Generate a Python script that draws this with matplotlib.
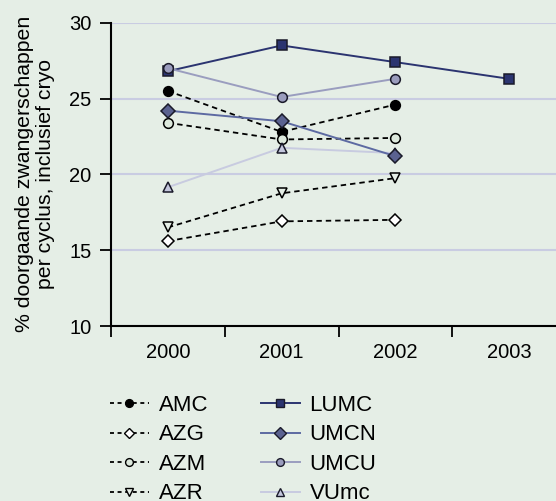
import matplotlib
matplotlib.use('Agg')
import matplotlib.pyplot as plt
from matplotlib.lines import Line2D

plt.rcParams['font.family'] = ['Liberation Sans', 'DejaVu Sans']

years = ["2000", "2001", "2002", "2003"]

amc = [25.5, 22.8, 24.6]
azg = [15.6, 16.9, 17.0]
azm = [23.4, 22.3, 22.4]
azr = [16.5, 18.75, 19.75]
lumc = [26.8, 28.5, 27.4, 26.3]
umcn = [24.2, 23.5, 21.2]
umcu = [27.0, 25.1, 26.3]
vumc = [19.15, 21.75, 21.4]

bg = "#e5eee6"
grid_c = "#c9cce2"

fig = plt.figure(figsize=(5.56, 5.01), dpi=100, facecolor=bg)
ax = fig.add_axes([111 / 556, 1 - 326 / 501, 455 / 556, 303.3 / 501], facecolor=bg)

# dashed black series
dash = dict(color="black", linestyle=(0, (3, 2.2)), linewidth=1.3, markersize=7,
            markeredgecolor="black", markeredgewidth=1.1)
ax.plot(range(3), amc, marker="o", markerfacecolor="black", label="AMC", zorder=3, **dash)
ax.plot(range(3), azg, marker="D", markerfacecolor="white", label="AZG", zorder=3,
        **{**dash, "markersize": 6.5})
ax.plot(range(3), azr, marker="v", markerfacecolor=bg, label="AZR", zorder=3, **dash)
ax.plot(range(3), azm, marker="o", markerfacecolor="#dde9dd", label="AZM", zorder=4, **dash)

solid = dict(linewidth=1.4, markersize=7, markeredgecolor="#1a1a2a", markeredgewidth=1.1)
ax.plot(range(3), vumc, marker="^", color="#c8cbe0", markerfacecolor="#c4c7dd",
        label="VUmc", zorder=5, **solid)
ax.plot(range(3), umcn, marker="D", color="#5d6aa2", markerfacecolor="#5b6290",
        label="UMCN", zorder=6, **{**solid, "markersize": 7.5})
ax.plot(range(4), lumc, marker="s", color="#2b3470", markerfacecolor="#2b3470",
        label="LUMC", zorder=7, **solid)
ax.plot(range(3), umcu, marker="o", color="#9a9dbf", markerfacecolor="#9a9cbd",
        label="UMCU", zorder=8, **solid)

ax.set_ylim(10, 30)
ax.set_yticks([10, 15, 20, 25, 30])
ax.set_xlim(-0.5, 3.5)
ax.set_xticks([-0.5, 0.5, 1.5, 2.5, 3.5])
ax.set_xticklabels([])
ax.set_xticks(range(4), minor=True)
ax.set_xticklabels(years, minor=True)
ax.tick_params(axis="x", which="minor", length=0, pad=12, labelsize=14.5)
ax.tick_params(axis="x", which="major", direction="out", length=8, width=1.3)
ax.tick_params(axis="y", direction="out", length=8, width=1.3, labelsize=14.5, pad=6)
ax.yaxis.grid(True, color=grid_c, linewidth=1.5)
ax.set_axisbelow(True)
for s in ["top", "right"]:
    ax.spines[s].set_visible(False)
for s in ["left", "bottom"]:
    ax.spines[s].set_linewidth(1.5)

ax.set_ylabel("% doorgaande zwangerschappen\nper cyclus, inclusief cryo", fontsize=15.3,
              labelpad=10, linespacing=1.15)

h = {l.get_label(): l for l in ax.get_lines()}
order = ["AMC", "AZG", "AZM", "AZR", "LUMC", "UMCN", "UMCU", "VUmc"]
handles = []
for name in order:
    l = h[name]
    ls = (0, (2.2, 2.0)) if l.get_color() == "black" else "-"
    handles.append(Line2D([], [], color=l.get_color(), linestyle=ls,
                          linewidth=l.get_linewidth(), marker=l.get_marker(),
                          markerfacecolor=l.get_markerfacecolor(),
                          markeredgecolor=l.get_markeredgecolor(),
                          markersize=l.get_markersize() * 0.8))
fig.legend(handles, order, ncol=2, loc="upper left", bbox_to_anchor=(90 / 556, 1 - 375 / 501),
           frameon=False, fontsize=16, handlelength=1.75, handletextpad=0.45,
           columnspacing=2.35, labelspacing=0.38)

fig.savefig("out.png", dpi=100, facecolor=bg)
